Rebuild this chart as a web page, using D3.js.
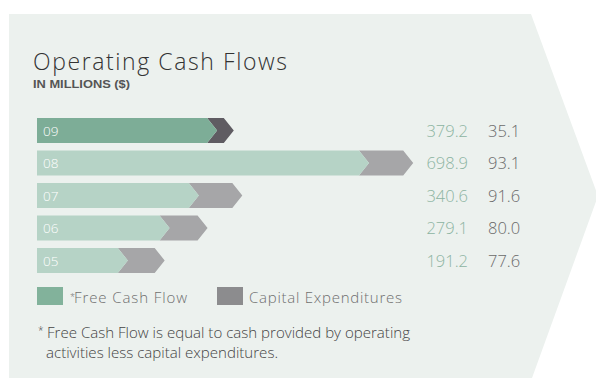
<!DOCTYPE html>
<html>
<head>
<meta charset="utf-8">
<script src="https://cdn.jsdelivr.net/npm/d3@7"></script>
<style>
  html, body { margin: 0; padding: 0; background: #ffffff; }
  svg { display: block; }
</style>
</head>
<body>
<svg id="chart" width="596" height="379"></svg>
<script>
// Operating cash flows by fiscal year, in millions of dollars
const years = ["09", "08", "07", "06", "05"];
const freeCashFlow = [379.2, 698.9, 340.6, 279.1, 191.2];
const capitalExpenditures = [35.1, 93.1, 91.6, 80.0, 77.6];
const legendLabels = ["Free Cash Flow", "Capital Expenditures"];
const titleText = "Operating Cash Flows";
const subtitleText = "IN MILLIONS ($)";
const footnoteLines = [
  "Free Cash Flow is equal to cash provided by operating",
  "activities less capital expenditures."
];

const rows = years.map((y, i) => ({
  year: y,
  fcf: freeCashFlow[i],
  capex: capitalExpenditures[i],
  current: i === 0
}));

const svg = d3.select("#chart");

const colors = {
  panel: "#ecf1ee",
  fcfCurrent: "#7dad97",
  capexCurrent: "#5f5c62",
  fcf: "#b6d3c6",
  capex: "#a6a6a8",
  legendFcf: "#82b29b",
  legendCapex: "#8c8c8e",
  fcfText: "#8db4a2",
  capexText: "#6a6a6a",
  title: "#333333"
};

// Chevron-shaped background panel
const panel = [[9, 14], [531, 14], [598, 196], [532, 378], [9, 378]];
svg.append("path")
  .attr("d", d3.line()(panel) + "Z")
  .attr("fill", colors.panel);

// Heading
svg.append("text")
  .attr("x", 33).attr("y", 70)
  .attr("font-family", "'Open Sans', sans-serif")
  .attr("font-weight", 300)
  .attr("font-size", 23)
  .attr("fill", colors.title)
  .attr("textLength", 254)
  .attr("lengthAdjust", "spacing")
  .text(titleText);

svg.append("text")
  .attr("x", 33).attr("y", 88)
  .attr("font-family", "'Liberation Sans', Arial, sans-serif")
  .attr("font-weight", 700)
  .attr("font-size", 11.5)
  .attr("fill", "#555555")
  .attr("textLength", 97)
  .attr("lengthAdjust", "spacingAndGlyphs")
  .text(subtitleText);

// Scales
const x = d3.scaleLinear().domain([0, 800]).range([37, 417]);
const y = d3.scaleBand()
  .domain(years)
  .range([118, 273])
  .paddingInner(7.5 / 32.5)
  .paddingOuter(0);

const tip = 10; // chevron depth in px

function fcfShape(d) {
  const t = y(d.year), b = t + y.bandwidth(), m = t + y.bandwidth() / 2;
  const x0 = x(0), xf = x(d.fcf);
  return d3.line()([[x0, t], [xf - tip, t], [xf, m], [xf - tip, b], [x0, b]]) + "Z";
}
function capexShape(d) {
  const t = y(d.year), b = t + y.bandwidth(), m = t + y.bandwidth() / 2;
  const xf = x(d.fcf), xt = x(d.fcf + d.capex);
  return d3.line()([[xf - tip, t], [xt - tip, t], [xt, m], [xt - tip, b], [xf - tip, b], [xf, m]]) + "Z";
}

const bars = svg.append("g").selectAll("g.row")
  .data(rows)
  .join("g")
  .attr("class", "row");

bars.append("path")
  .attr("d", capexShape)
  .attr("fill", d => d.current ? colors.capexCurrent : colors.capex);

bars.append("path")
  .attr("d", fcfShape)
  .attr("fill", d => d.current ? colors.fcfCurrent : colors.fcf);

// Year labels inside the bars
bars.append("text")
  .attr("x", x(0) + 6)
  .attr("y", d => y(d.year) + y.bandwidth() / 2 + 5)
  .attr("font-family", "'Open Sans', sans-serif")
  .attr("font-weight", 300)
  .attr("font-size", 13.5)
  .attr("fill", "#ffffff")
  .text(d => d.year);

// Value columns
bars.append("text")
  .attr("x", 468)
  .attr("y", d => y(d.year) + y.bandwidth() / 2 + 6)
  .attr("text-anchor", "end")
  .attr("font-family", "'Open Sans', sans-serif")
  .attr("font-weight", 300)
  .attr("font-size", 16.5)
  .attr("fill", colors.fcfText)
  .text(d => d3.format(".1f")(d.fcf));

bars.append("text")
  .attr("x", 488)
  .attr("y", d => y(d.year) + y.bandwidth() / 2 + 6)
  .attr("font-family", "'Open Sans', sans-serif")
  .attr("font-weight", 300)
  .attr("font-size", 16.5)
  .attr("fill", colors.capexText)
  .text(d => d3.format(".1f")(d.capex));

// Legend
const legend = svg.append("g");
const legendItems = [
  { label: legendLabels[0], color: colors.legendFcf, x: 37, star: true, w: 113 },
  { label: legendLabels[1], color: colors.legendCapex, x: 217, star: false, w: 153 }
];
legend.selectAll("rect")
  .data(legendItems)
  .join("rect")
  .attr("x", d => d.x).attr("y", 287)
  .attr("width", 26).attr("height", 18)
  .attr("fill", d => d.color);

legendItems.forEach(d => {
  const t = legend.append("text")
    .attr("y", 303)
    .attr("font-family", "'Open Sans', sans-serif")
    .attr("font-weight", 300)
    .attr("font-size", 15)
    .attr("fill", "#6f6f6f");
  if (d.star) {
    t.append("tspan").attr("x", 70).attr("dy", -3).attr("font-size", 9).text("*");
    t.append("tspan").attr("x", 74).attr("dy", 3)
      .attr("textLength", d.w).attr("lengthAdjust", "spacing").text(d.label);
  } else {
    t.append("tspan").attr("x", 249)
      .attr("textLength", d.w).attr("lengthAdjust", "spacing").text(d.label);
  }
});

// Footnote
const foot = svg.append("g")
  .attr("font-family", "'Open Sans', sans-serif")
  .attr("font-weight", 300)
  .attr("font-size", 14.5)
  .attr("fill", "#444444");
foot.append("text").attr("x", 38).attr("y", 334).attr("font-size", 10).text("*");
foot.append("text").attr("x", 47).attr("y", 338)
  .attr("textLength", 363).attr("lengthAdjust", "spacingAndGlyphs")
  .text(footnoteLines[0]);
foot.append("text").attr("x", 46).attr("y", 358)
  .attr("textLength", 232).attr("lengthAdjust", "spacingAndGlyphs")
  .text(footnoteLines[1]);
</script>
</body>
</html>
